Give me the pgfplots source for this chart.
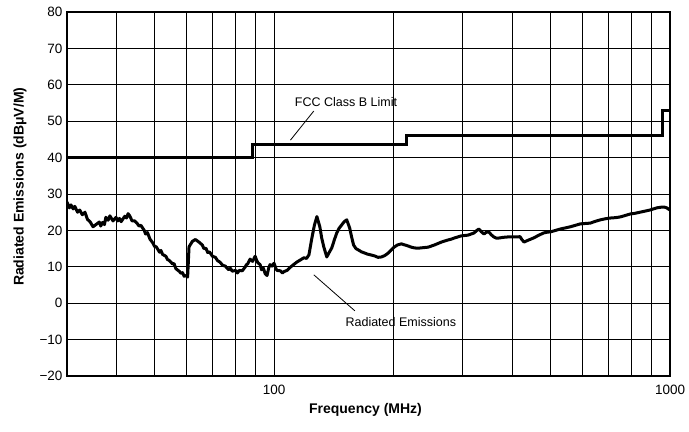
\documentclass[border=0pt]{standalone}
\usepackage{fontspec}
\setmainfont{Liberation Sans}
\usepackage{pgfplots}
\pgfplotsset{compat=1.18}
\begin{document}
\begin{tikzpicture}
\begin{axis}[
  scale only axis, width=603pt, height=364pt,
  xmode=log, xmin=30, xmax=1000, ymin=-20, ymax=80,
  xtick={100,1000}, xticklabels={100,1000},
  minor xtick={40,50,60,70,80,90,200,300,400,500,600,700,800,900},
  ytick={-20,-10,0,10,20,30,40,50,60,70,80},
  yticklabels={−20,−10,0,10,20,30,40,50,60,70,80},
  major tick length=0pt, minor tick length=0pt,
  grid=both,
  major grid style={black, line width=1pt},
  minor grid style={black, line width=1pt},
  axis line style={black, line width=1.8pt},
  /pgf/number format/assume math mode=true,
  xticklabel style={font=\fontsize{13.5}{15}\selectfont, yshift=-6pt},
  yticklabel style={font=\fontsize{13.5}{15}\selectfont, xshift=-1pt},
  xlabel={\textbf{Frequency (MHz)}},
  ylabel={\textbf{Radiated Emissions (dBμV/M)}},
  xlabel style={font=\fontsize{14}{16}\selectfont, at={(axis description cs:0.495,-0.093)}, anchor=center},
  ylabel style={font=\fontsize{14}{16}\selectfont, at={(axis description cs:-0.078,0.52)}, anchor=center},
  clip=true,
]
% FCC Class B limit
\addplot[black, line width=3pt, line join=miter] coordinates {
 (30,40) (88,40) (88,43.5) (216,43.5) (216,46) (960,46) (960,53) (1000,53)};
% Radiated emissions
\addplot[black, line width=3pt, line join=round] coordinates {
 (30,27.8) (30.4,26.2) (30.7,27.0) (31.1,25.9) (31.4,26.6) (31.9,25.0) (32.3,25.6) (32.8,24.3) (33.3,25.0) (33.8,23.0) (34.3,22.4) (34.9,21.0) (35.5,21.6)
 (36.2,22.3) (36.5,21.2) (36.9,22.2) (37.3,21.6) (37.6,23.6) (38.1,22.8) (38.5,24.0) (39.2,22.6) (39.9,23.6) (40.3,22.6) (40.7,23.3) (41.1,22.4) (41.5,23.1)
 (42.0,23.9) (42.4,23.4) (42.8,24.6) (43.2,24.0) (43.8,22.6) (44.5,22.6) (45.2,21.8) (45.6,21.2) (46.1,21.4) (47.0,20.0) (47.4,19.0) (47.9,19.4) (48.6,17.6)
 (49.4,16.6) (49.9,15.6) (50.4,15.5) (51.4,14.0) (51.8,14.5) (52.3,13.4) (53.3,12.9) (53.8,12.0) (54.3,11.8) (55.4,10.8) (55.9,10.9) (56.5,9.5)
 (57.7,8.7) (58.2,8.2) (58.7,8.4) (59.3,7.4) (59.8,7.6) (60.5,7.2) (61.0,15.5) (62.2,17.0) (63.3,17.5) (64.6,16.8)
 (65.9,16) (66.5,15.0) (67.3,15.1) (68.0,13.9) (68.7,14.1) (69.9,12.9) (71.1,12.6) (72.0,11.7) (73,11.3) (74.2,10.4) (75.3,10.2)
 (76.8,9.2) (77.6,9.6) (78.4,8.8) (80,9.0) (80.8,8.3) (81.7,9.0) (83.1,8.9) (84.5,9.9) (85.2,10.6) (85.8,10.8) (87,12.1)
 (88.3,11.5) (89.6,12.9) (90.3,11.9) (90.9,11.2) (92.2,10.6) (93.0,9.2) (94,9.6) (95,8.1) (96,7.6) (97.0,9.8) (97.7,10.6) (98.8,10.2) (100,11)
 (101.0,9.6) (101.7,9.0) (103.8,8.9) (105,8.3) (106,8.7) (107.8,9.0) (109.7,9.8) (112,10.6) (114.2,11.3) (116.6,11.9)
 (119,12.5) (120.8,12.3) (122.5,13.3) (124.6,17.9) (126.5,21.5) (128.3,23.8) (130.5,21) (132,17.8) (133.6,15.4)
 (135.9,12.7) (137.9,14.0) (139.9,15.2) (142,17.4) (144,19.3) (146,20.6) (148.2,21.5) (150.4,22.4)
 (152.6,22.9) (155.2,20.7) (157,18.2) (158.8,16) (161,15.0) (163.5,14.6) (166.3,14.1) (169.3,13.8)
 (172,13.5) (175,13.3) (179.4,13) (183,12.6) (186.7,12.7) (190.5,13.1) (194.4,13.8) (197.7,14.6)
 (201,15.4) (205,16.0) (209.7,16.3) (214,16.0) (218.3,15.7) (222,15.4) (226,15.2) (230.6,15.1)
 (235.4,15.2) (240,15.3) (245.2,15.4) (249.6,15.7) (254.2,16) (259.4,16.4) (264.7,16.8) (270,17.1)
 (275.7,17.4) (280.4,17.6) (285.2,17.9) (291,18.2) (297,18.5) (303,18.6) (309,18.7) (314.5,19.0)
 (320,19.3) (324.5,19.9) (329,20.4) (334,19.6) (339,19) (343.7,19.5) (348.5,19.6) (353.7,18.8)
 (359,18.2) (364,17.9) (369.5,17.9) (379.5,18.1) (389.5,18.2) (396.5,18.2) (403.5,18.2) (412.6,18.2)
 (418,18.3) (423,17.4) (428,16.8) (436,17.2) (445,17.6) (454,18.0) (463,18.5) (471,18.9)
 (479.5,19.3) (489,19.5) (499,19.6) (514,20.0) (529,20.4) (545,20.7) (560.5,21) (577,21.4)
 (594,21.8) (611,21.9) (629,22) (648,22.5) (667,22.9) (687,23.2) (707,23.4) (728,23.5)
 (749,23.7) (771,24.1) (793,24.5) (816,24.7) (840,25) (865,25.3) (890,25.6) (908,25.9)
 (927,26.2) (940,26.3) (953,26.4) (967,26.4) (981,26.2) (990,25.9) (1000,25.6)};
% annotations
\node[font=\fontsize{12.5}{14}\selectfont] at (axis cs:152,55.2) {FCC Class B Limit};
\draw[black, line width=0.8pt] (axis cs:110,44.8) -- (axis cs:126,52.8);
\node[font=\fontsize{12.5}{14}\selectfont] at (axis cs:209,-5.3) {Radiated Emissions};
\draw[black, line width=0.8pt] (axis cs:126,7.8) -- (axis cs:160,-2.1);
\end{axis}
\path ([shift={(-67pt,-55pt)}]current axis.south west) rectangle ([shift={(19pt,12pt)}]current axis.north east);
\end{tikzpicture}
\end{document}
